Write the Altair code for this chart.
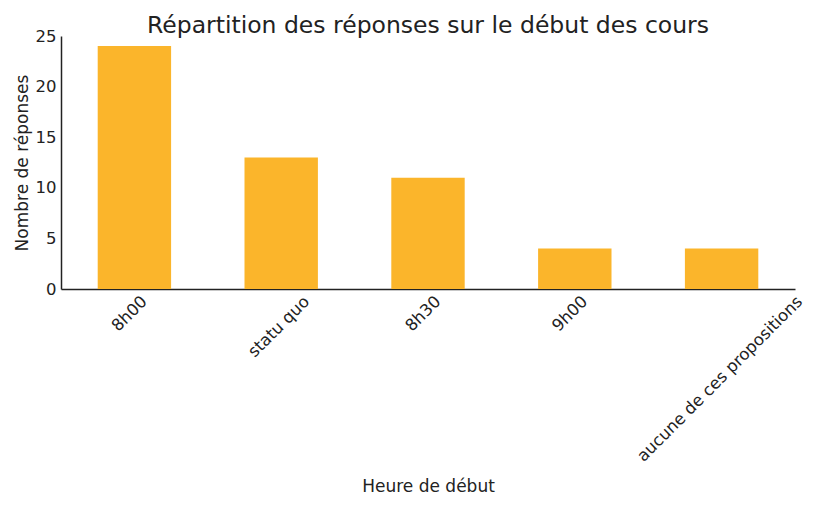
import altair as alt
import pandas as pd

categories = ["8h00", "statu quo", "8h30", "9h00", "aucune de ces propositions"]
counts = [24, 13, 11, 4, 4]
y_ticks = [0, 5, 10, 15, 20, 25]

df = pd.DataFrame({"Heure": categories, "Nombre": counts})

FONT = "DejaVu Sans"
INK = "#222222"
LBL = 16.5
TTL = 17

chart = (
    alt.Chart(df)
    .mark_bar(color="#FBB52B")
    .encode(
        x=alt.X(
            "Heure:N",
            sort=categories,
            title="Heure de début",
            scale=alt.Scale(paddingInner=0.5, paddingOuter=0.25),
            axis=alt.Axis(
                labelAngle=-45,
                labelAlign="right",
                labelOffset=alt.ExprRef("length(datum.label)*3.1 - 8"),
                labelPadding=4,
                labelLimit=0,
                ticks=False,
                domainColor=INK,
                domainWidth=1.5,
                labelFont=FONT,
                labelFontSize=LBL,
                labelColor=INK,
                titleFont=FONT,
                titleFontSize=TTL,
                titleFontWeight="normal",
                titleColor=INK,
                titlePadding=14,
            ),
        ),
        y=alt.Y(
            "Nombre:Q",
            scale=alt.Scale(domain=[0, 25]),
            axis=alt.Axis(
                values=y_ticks,
                title="Nombre de réponses",
                grid=False,
                ticks=False,
                labelPadding=5,
                domainColor=INK,
                domainWidth=1.5,
                labelFont=FONT,
                labelFontSize=LBL,
                labelColor=INK,
                titleFont=FONT,
                titleFontSize=TTL,
                titleFontWeight="normal",
                titleColor=INK,
                titlePadding=4,
            ),
        ),
    )
    .properties(
        width=797,
        height=492,
        autosize=alt.AutoSizeParams(type="fit", contains="padding"),
        title=alt.Title(
            "Répartition des réponses sur le début des cours",
            font=FONT,
            fontSize=23.5,
            fontWeight="normal",
            color=INK,
            offset=-9,
        ),
    )
    .configure(background="white")
    .configure_view(stroke=None)
)

chart.save("out.html", embed_options={"renderer": "svg", "actions": False})
